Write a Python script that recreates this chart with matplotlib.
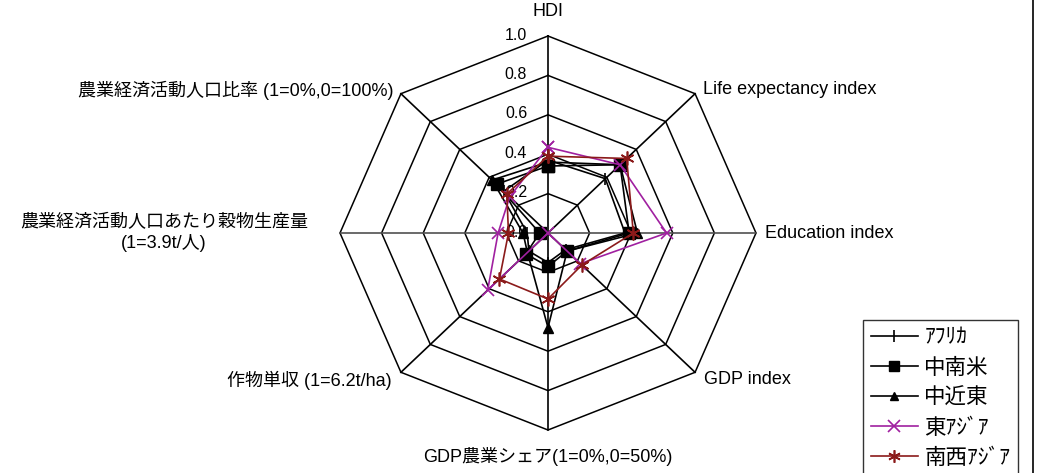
import numpy as np
import matplotlib.pyplot as plt

plt.rcParams['font.family'] = ['Liberation Sans', 'Noto Sans CJK JP', 'DejaVu Sans']

categories = ['HDI', 'Life expectancy index', 'Education index', 'GDP index',
              'GDP農業シェア(1=0%,0=50%)', '作物単収 (1=6.2t/ha)',
              '農業経済活動人口あたり穀物生産量\n(1=3.9t/人)',
              '農業経済活動人口比率 (1=0%,0=100%)']

africa      = [0.37, 0.39, 0.37, 0.12, 0.15, 0.13, 0.10, 0.30]
latin_am    = [0.34, 0.49, 0.39, 0.13, 0.17, 0.15, 0.04, 0.35]
middle_east = [0.36, 0.49, 0.43, 0.13, 0.48, 0.14, 0.12, 0.38]
east_asia   = [0.435, 0.49, 0.57, 0.22, 0.00, 0.41, 0.24, 0.26]
sw_asia     = [0.39, 0.535, 0.41, 0.23, 0.335, 0.33, 0.19, 0.28]

series_names = ['ｱﾌﾘｶ', '中南米', '中近東', '東ｱｼﾞｱ', '南西ｱｼﾞｱ']
ticks = [0.0, 0.2, 0.4, 0.6, 0.8, 1.0]

theta = np.deg2rad(np.arange(8) * 45)

def xy(vals):
    v = np.append(vals, vals[0])
    t = np.append(theta, theta[0])
    return v * np.sin(t), v * np.cos(t)

fig = plt.figure(figsize=(10.42, 4.73), dpi=100)
ax = fig.add_axes([0, 0, 1, 1])
# center at pixel (548, 233); 1.0 = 208 px across, 197 px up
ax.set_xlim(-548 / 208, (1042 - 548) / 208)
ax.set_ylim(-(473 - 233) / 197, 233 / 197)
ax.axis('off')

# grid octagons and spokes
for r in ticks[1:]:
    gx, gy = xy(np.full(8, r))
    ax.plot(gx, gy, color='black', lw=1.1, zorder=1)
for t in theta:
    c = '#505050' if abs(np.sin(t)) > 0.99 else 'black'
    ax.plot([0, np.sin(t)], [0, np.cos(t)], color=c, lw=1.2, zorder=1)

for r in ticks:
    ax.text(-0.10, r + 0.005, f'{r:.1f}', ha='right', va='center', fontsize=11.5, zorder=2)

styles = [
    dict(color='black', marker='|', ms=9, mew=1.2),
    dict(color='black', marker='s', ms=8),
    dict(color='black', marker='^', ms=7),
    dict(color='#A020A0', marker='x', ms=9, mew=1.2),
    dict(color='#8B1A1A', marker=(6, 2, 0), ms=10, mew=1.2),
]
for vals, name, st in zip([africa, latin_am, middle_east, east_asia, sw_asia], series_names, styles):
    px, py = xy(vals)
    ax.plot(px, py, lw=1.2, label=name, zorder=3, **st)

# category labels
lab_pos = [(0, 1.122, 'center'), (0.745, 0.726, 'left'), (1.043, 0.0, 'left'),
           (0.75, -0.746, 'left'), (0, -1.137, 'center'), (-0.75, -0.746, 'right'),
           (-1.154, 0.0, 'right'), (-0.745, 0.726, 'right')]
for lab, (lx, ly, ha) in zip(categories, lab_pos):
    ax.text(lx, ly, lab, ha=ha, va='center', fontsize=13, multialignment='center')

# right border of chart area
ax.axvline((1033 - 548) / 208, color='black', lw=1.2)

leg = ax.legend(loc='upper left', bbox_to_anchor=(863 / 1042, 1 - 320 / 473),
                bbox_transform=fig.transFigure, borderaxespad=0, frameon=True,
                fancybox=False, edgecolor='black', fontsize=15.5, handlelength=2.2,
                handletextpad=0.3, labelspacing=0.42, borderpad=0.35, markerscale=0.9)
leg.get_frame().set_linewidth(1.0)

fig.savefig('out.png', dpi=100)
